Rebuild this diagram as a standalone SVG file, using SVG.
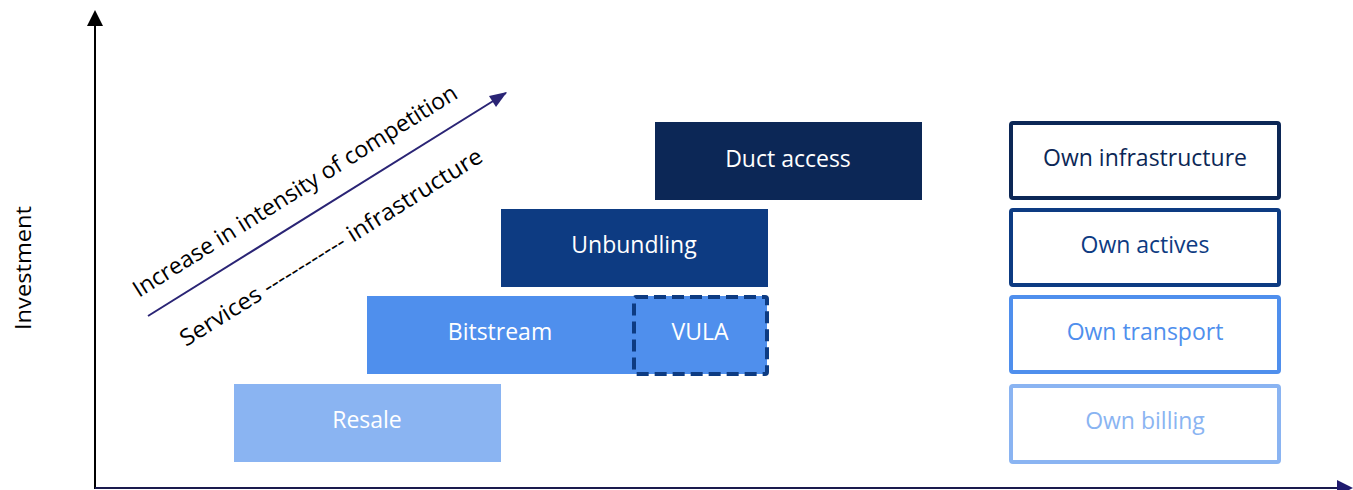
<svg xmlns="http://www.w3.org/2000/svg" width="1353" height="490" viewBox="0 0 1353 490">
<style>
text{font-family:"Open Sans","Noto Sans",sans-serif;}
.lbl{font-size:23px;text-anchor:middle;dominant-baseline:central;}
.w{fill:#ffffff;}
.own{fill:#ffffff;stroke-width:4;}
.diag{font-size:23px;fill:#000;}
</style>
<rect width="1353" height="490" fill="#ffffff"/>
<g id="axes">
<line x1="95" y1="489" x2="95" y2="24" stroke="#000" stroke-width="2"/>
<path d="M95,10 L103,26 L87,26 z" fill="#000"/>
<line x1="95" y1="488" x2="1340" y2="488" stroke="#1a1a4e" stroke-width="2"/>
<path d="M1353,488 L1337,480 L1337,496 z" fill="#1f1a6e"/>
<text x="22" y="268" transform="rotate(-90 22 268)" font-size="22" text-anchor="middle" dominant-baseline="central" fill="#000" textLength="124" lengthAdjust="spacingAndGlyphs">Investment</text>
</g>
<g id="connectors">
<line x1="148" y1="316" x2="506" y2="93" stroke="#2a2475" stroke-width="2"/>
<path d="M507,92 L489,96 L496,107 z" fill="#2a2475"/>
</g>
<g id="diag-labels">
<text class="diag" transform="translate(139,298) rotate(-32.1)" textLength="378" lengthAdjust="spacingAndGlyphs">Increase in intensity of competition</text>
<text class="diag" transform="translate(186,347) rotate(-32)" textLength="352" lengthAdjust="spacingAndGlyphs">Services ------------ infrastructure</text>
</g>
<g id="resale">
<rect x="234" y="384" width="267" height="78" fill="#8ab4f2"/>
<text class="lbl w" x="367" y="419">Resale</text>
</g>
<g id="bitstream">
<rect x="367" y="296" width="400" height="78" fill="#4f8fed"/>
<text class="lbl w" x="500" y="331">Bitstream</text>
</g>
<g id="vula">
<rect x="634" y="297" width="133" height="77" fill="#4f8fed" stroke="#0d3b82" stroke-width="4" stroke-dasharray="12,6" rx="2"/>
<text class="lbl w" x="700" y="331">VULA</text>
</g>
<g id="unbundling">
<rect x="501" y="209" width="267" height="78" fill="#0d3b82"/>
<text class="lbl w" x="634" y="244">Unbundling</text>
</g>
<g id="duct">
<rect x="655" y="122" width="267" height="78" fill="#0c2756"/>
<text class="lbl w" x="788" y="158">Duct access</text>
</g>
<g id="own-infrastructure">
<rect class="own" x="1011" y="123" width="268" height="75" stroke="#0c2756" rx="2"/>
<text class="lbl" x="1145" y="157" fill="#0c2756">Own infrastructure</text>
</g>
<g id="own-actives">
<rect class="own" x="1011" y="210" width="268" height="75" stroke="#0d3b82" rx="2"/>
<text class="lbl" x="1145" y="244" fill="#0d3b82">Own actives</text>
</g>
<g id="own-transport">
<rect class="own" x="1011" y="297" width="268" height="75" stroke="#4f8fed" rx="2"/>
<text class="lbl" x="1145" y="331" fill="#4f8fed">Own transport</text>
</g>
<g id="own-billing">
<rect class="own" x="1011" y="386" width="268" height="76" stroke="#8ab4f2" rx="2"/>
<text class="lbl" x="1145" y="420" fill="#8ab4f2">Own billing</text>
</g>
</svg>
